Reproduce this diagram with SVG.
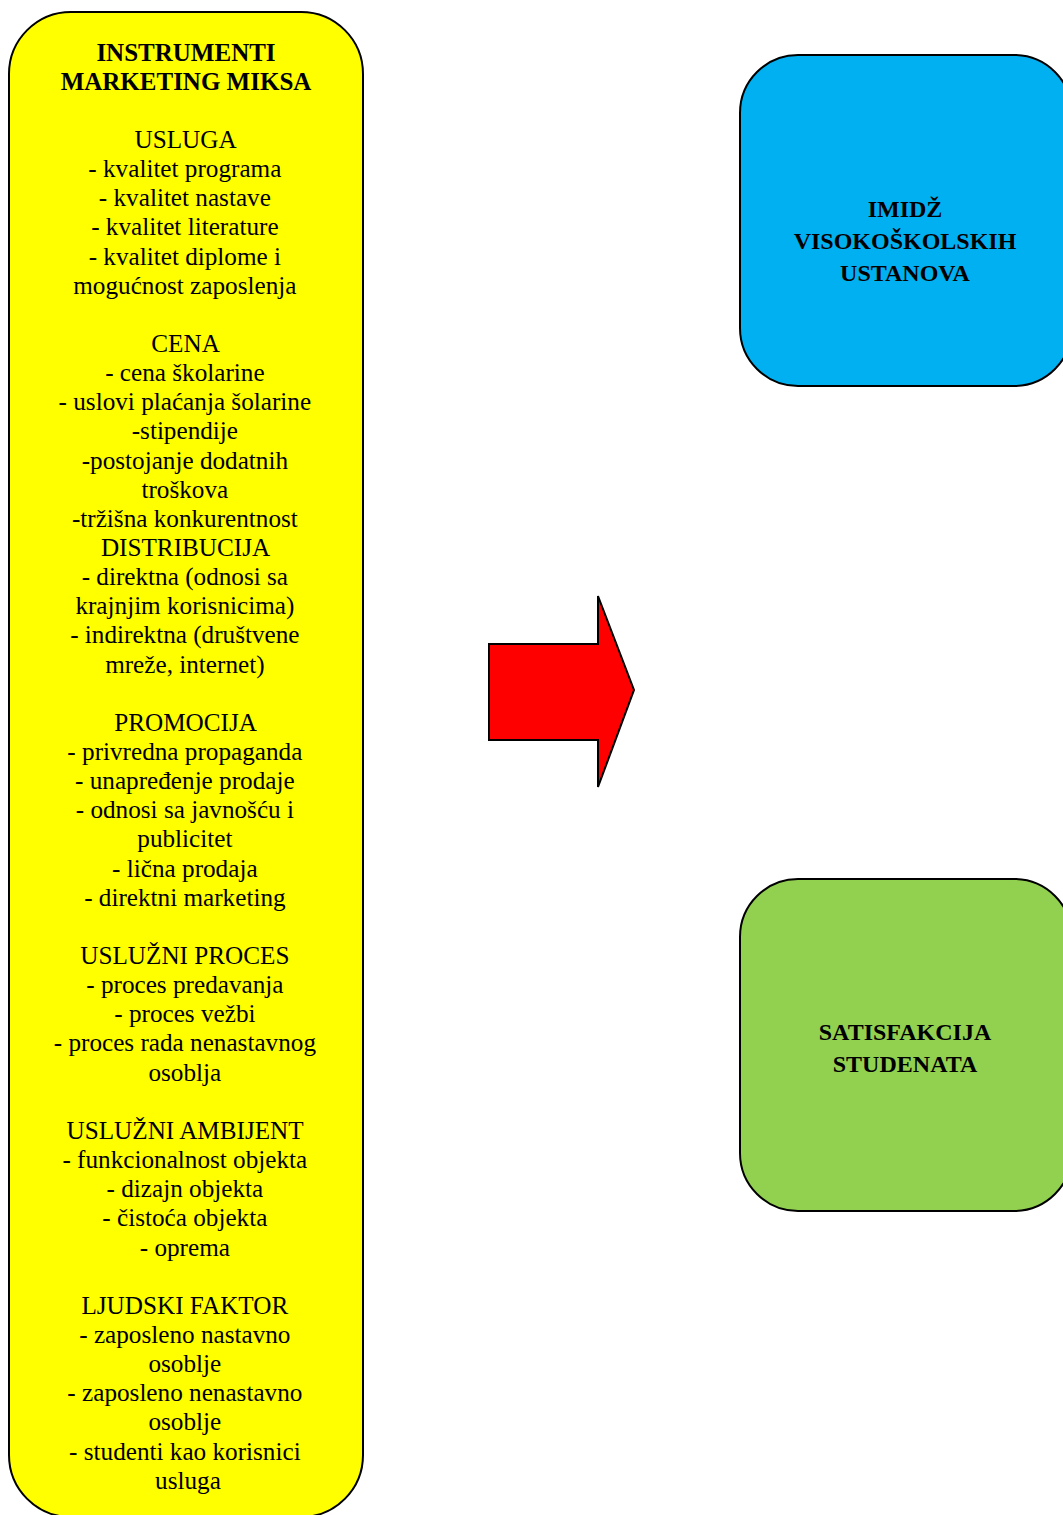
<svg xmlns="http://www.w3.org/2000/svg" width="1063" height="1515" viewBox="0 0 1063 1515">
  <style>
    .box { stroke: #000; stroke-width: 2; }
    .list { font-family: "Liberation Serif", "Times New Roman", serif; font-size: 25.2px; fill: #000; text-anchor: middle; }
    .head { font-family: "Liberation Serif", "Times New Roman", serif; font-weight: bold; fill: #000; text-anchor: middle; }
  </style>
  <rect width="1063" height="1515" fill="#fff"/>

  <!-- marketing mix instruments -->
  <g id="instrumenti">
    <rect class="box" x="9" y="12" width="354" height="1505" rx="62" ry="62" fill="#FFFF00"/>
    <text class="head" font-size="25" x="186" y="60.5">INSTRUMENTI</text>
    <text class="head" font-size="25" x="186" y="89.6">MARKETING MIKSA</text>
    <text class="list">
      <tspan x="188" y="147.9">USLUGA</tspan>
      <tspan x="188" y="177.1">- kvalitet programa</tspan>
      <tspan x="188" y="206.2">- kvalitet nastave</tspan>
      <tspan x="188" y="235.4">- kvalitet literature</tspan>
      <tspan x="188" y="264.5">- kvalitet diplome i</tspan>
      <tspan x="188" y="293.7">mogućnost zaposlenja</tspan>
      <tspan x="188" y="351.9">CENA</tspan>
      <tspan x="188" y="381.1">- cena školarine</tspan>
      <tspan x="188" y="410.2">- uslovi plaćanja šolarine</tspan>
      <tspan x="188" y="439.4">-stipendije</tspan>
      <tspan x="188" y="468.5">-postojanje dodatnih</tspan>
      <tspan x="188" y="497.7">troškova</tspan>
      <tspan x="188" y="526.8">-tržišna konkurentnost</tspan>
      <tspan x="188" y="555.9">DISTRIBUCIJA</tspan>
      <tspan x="188" y="585.1">- direktna (odnosi sa</tspan>
      <tspan x="188" y="614.2">krajnjim korisnicima)</tspan>
      <tspan x="188" y="643.4">- indirektna (društvene</tspan>
      <tspan x="188" y="672.5">mreže, internet)</tspan>
      <tspan x="188" y="730.8">PROMOCIJA</tspan>
      <tspan x="188" y="760.0">- privredna propaganda</tspan>
      <tspan x="188" y="789.1">- unapređenje prodaje</tspan>
      <tspan x="188" y="818.3">- odnosi sa javnošću i</tspan>
      <tspan x="188" y="847.4">publicitet</tspan>
      <tspan x="188" y="876.6">- lična prodaja</tspan>
      <tspan x="188" y="905.7">- direktni marketing</tspan>
      <tspan x="188" y="964.0">USLUŽNI PROCES</tspan>
      <tspan x="188" y="993.1">- proces predavanja</tspan>
      <tspan x="188" y="1022.3">- proces vežbi</tspan>
      <tspan x="188" y="1051.4">- proces rada nenastavnog</tspan>
      <tspan x="188" y="1080.6">osoblja</tspan>
      <tspan x="188" y="1138.9">USLUŽNI AMBIJENT</tspan>
      <tspan x="188" y="1168.0">- funkcionalnost objekta</tspan>
      <tspan x="188" y="1197.2">- dizajn objekta</tspan>
      <tspan x="188" y="1226.3">- čistoća objekta</tspan>
      <tspan x="188" y="1255.5">- oprema</tspan>
      <tspan x="188" y="1313.8">LJUDSKI FAKTOR</tspan>
      <tspan x="188" y="1342.9">- zaposleno nastavno</tspan>
      <tspan x="188" y="1372.1">osoblje</tspan>
      <tspan x="188" y="1401.2">- zaposleno nenastavno</tspan>
      <tspan x="188" y="1430.4">osoblje</tspan>
      <tspan x="188" y="1459.5">- studenti kao korisnici</tspan>
      <tspan x="188" y="1488.7">usluga</tspan>
    </text>
  </g>

  <!-- block arrow from the mix to the outcomes -->
  <g id="connectors">
    <polygon class="box" points="489,644 598,644 598,596 634,690 598,787 598,740 489,740" fill="#FF0000" stroke-linejoin="miter"/>
  </g>

  <!-- image of higher education institutions -->
  <g id="imidz">
    <rect class="box" x="740" y="55" width="332" height="331" rx="58" ry="58" fill="#00B0F0"/>
    <text class="head" font-size="24" x="905" y="217">IMIDŽ</text>
    <text class="head" font-size="24" x="905" y="249">VISOKOŠKOLSKIH</text>
    <text class="head" font-size="24" x="905" y="281">USTANOVA</text>
  </g>

  <!-- student satisfaction -->
  <g id="satisfakcija">
    <rect class="box" x="740" y="879" width="332" height="332" rx="58" ry="58" fill="#92D050"/>
    <text class="head" font-size="24" x="905" y="1040">SATISFAKCIJA</text>
    <text class="head" font-size="24" x="905" y="1072">STUDENATA</text>
  </g>
</svg>
